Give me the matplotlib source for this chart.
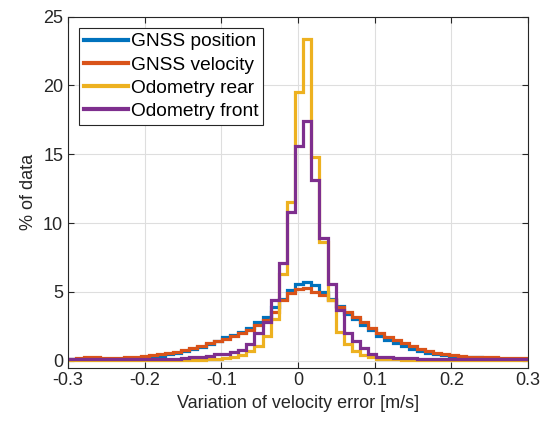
import numpy as np
import matplotlib
matplotlib.use("Agg")
import matplotlib.pyplot as plt

# ---- data -------------------------------------------------------------
BIN_START = -0.3007
BIN_WIDTH = 0.0106

gnss_position = [0.10, 0.10, 0.15, 0.15, 0.15, 0.15, 0.15, 0.20, 0.20,
                 0.25, 0.30, 0.35, 0.45,
                 0.55, 0.70, 0.85, 1.00,
                 1.20, 1.40, 1.70, 1.90,
                 2.10, 2.40, 2.80, 3.20,
                 3.90, 4.50, 5.10, 5.60, 5.75,
                 5.50, 5.00, 4.50, 4.00,
                 3.40, 3.00, 2.60, 2.20, 1.80,
                 1.50, 1.30, 1.05, 0.85, 0.70,
                 0.55, 0.45, 0.40, 0.35, 0.30,
                 0.25, 0.25, 0.20, 0.20, 0.15, 0.15, 0.15, 0.15]

gnss_velocity = [0.15, 0.20, 0.25, 0.25, 0.20, 0.20, 0.20, 0.25, 0.30,
                 0.35, 0.40, 0.45, 0.55,
                 0.65, 0.80, 0.95, 1.10,
                 1.25, 1.40, 1.60, 1.80,
                 2.00, 2.20, 2.60, 2.95,
                 3.50, 4.40, 4.90, 5.20, 5.30,
                 5.00, 4.75, 4.40, 3.90,
                 3.50, 3.20, 2.80, 2.40, 2.00,
                 1.70, 1.50, 1.30, 1.05, 0.85,
                 0.70, 0.55, 0.45, 0.40, 0.35,
                 0.30, 0.30, 0.25, 0.25, 0.20, 0.20, 0.20, 0.20]

odometry_rear = [0.02, 0.02, 0.02, 0.02, 0.02, 0.02, 0.02, 0.02, 0.02,
                 0.02, 0.02, 0.03, 0.03,
                 0.03, 0.04, 0.04, 0.05,
                 0.10, 0.15, 0.20, 0.30,
                 0.40, 0.70, 1.10, 1.80,
                 3.00, 6.30, 11.5, 19.5, 23.4,
                 14.8, 8.60, 4.40, 2.10,
                 1.20, 0.70, 0.40, 0.25, 0.15,
                 0.10, 0.10, 0.08, 0.08, 0.07,
                 0.06, 0.06, 0.05, 0.05, 0.05,
                 0.05, 0.05, 0.05, 0.05, 0.05, 0.05, 0.05, 0.05]

odometry_front = [0.10, 0.10, 0.10, 0.10, 0.10, 0.10, 0.10, 0.10, 0.10,
                  0.10, 0.12, 0.12, 0.15,
                  0.15, 0.20, 0.25, 0.30,
                  0.35, 0.45, 0.50, 0.60,
                  0.80, 1.20, 2.00, 2.80,
                  4.40, 7.10, 10.8, 15.6, 17.4,
                  13.1, 8.90, 5.60, 3.70,
                  2.00, 1.40, 0.90, 0.50, 0.30,
                  0.25, 0.20, 0.20, 0.20, 0.15,
                  0.15, 0.15, 0.15, 0.12, 0.12,
                  0.12, 0.12, 0.10, 0.10, 0.10, 0.10, 0.10, 0.10]

series_labels = ["GNSS position", "GNSS velocity", "Odometry rear", "Odometry front"]
x_ticks = [-0.3, -0.2, -0.1, 0, 0.1, 0.2, 0.3]
x_tick_labels = ["-0.3", "-0.2", "-0.1", "0", "0.1", "0.2", "0.3"]
y_ticks = [0, 5, 10, 15, 20, 25]

# ---- style ------------------------------------------------------------
plt.rcParams['font.family'] = ['Liberation Sans', 'DejaVu Sans']
plt.rcParams['axes.unicode_minus'] = False

colors = ["#0072BD", "#D95319", "#EDB120", "#7E2F8E"]
axis_col = "#262626"

fig = plt.figure(figsize=(5.48, 4.30), dpi=100)
ax = fig.add_axes([0.1241, 0.1453, 0.8394, 0.8159])

n = len(gnss_position)
edges = BIN_START + BIN_WIDTH * np.arange(n + 1)

for vals, lab, col in zip([gnss_position, gnss_velocity, odometry_rear, odometry_front],
                          series_labels, colors):
    ax.stairs(vals, edges, baseline=None, color=col, linewidth=2.3, label=lab)

ax.set_xlim(-0.3, 0.3)
ax.set_ylim(-0.5, 25)
ax.set_xticks(x_ticks)
ax.set_xticklabels(x_tick_labels)
ax.set_yticks(y_ticks)

ax.grid(True, color="#dedede", linewidth=0.8)
ax.set_axisbelow(True)
for sp in ax.spines.values():
    sp.set_color(axis_col)
    sp.set_linewidth(0.8)
ax.tick_params(direction='in', length=4, width=0.8, colors=axis_col,
               labelsize=13, top=True, right=True, labeltop=False, labelright=False)
for t in ax.get_xticklabels() + ax.get_yticklabels():
    t.set_color(axis_col)

ax.set_xlabel("Variation of velocity error [m/s]", fontsize=13, color=axis_col)
ax.set_ylabel("% of data", fontsize=13, color=axis_col)

leg = ax.legend(loc='upper left', bbox_to_anchor=(0.0246, 0.967), borderaxespad=0,
                fontsize=13.8, frameon=True, fancybox=False, framealpha=1,
                edgecolor=axis_col, handlelength=2.3, handletextpad=0.15,
                labelspacing=0.3, borderpad=0.25)
leg.get_frame().set_linewidth(0.8)
for line in leg.get_lines():
    line.set_linewidth(3)

fig.savefig("out.png", dpi=100)
